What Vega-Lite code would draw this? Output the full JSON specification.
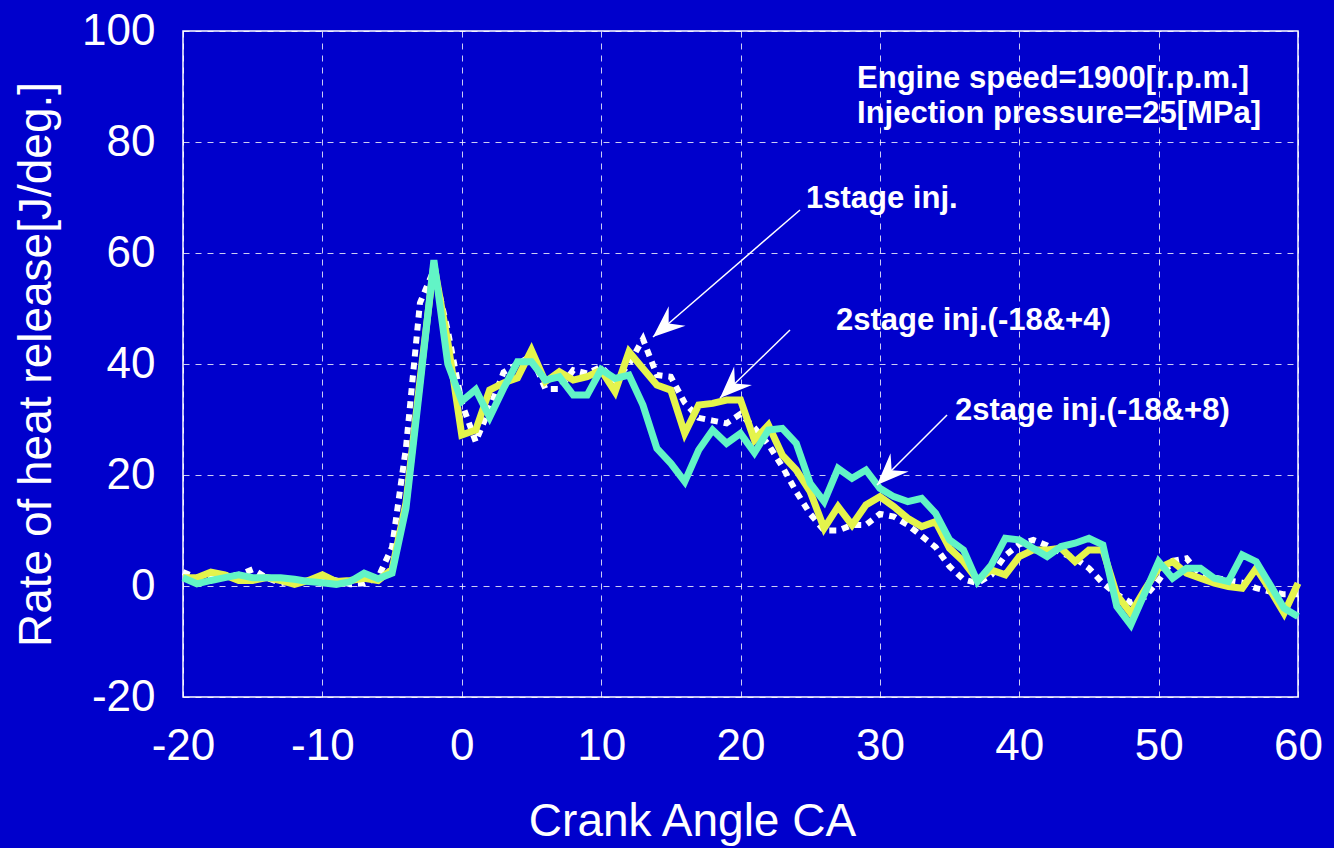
{
  "$schema": "https://vega.github.io/schema/vega-lite/v6.json",
  "width": 1115,
  "height": 666,
  "autosize": {"type": "none"},
  "padding": {"left": 183, "top": 31, "right": 36, "bottom": 151},
  "background": "#0000CC",
  "config": {
    "view": {"stroke": "#FFFFFF", "strokeWidth": 1.5, "fill": "#0000CC"},
    "font": "Liberation Sans",
    "axis": {
      "labelColor": "#FFFFFF", "labelFontSize": 44, "labelFont": "Liberation Sans",
      "titleColor": "#FFFFFF", "titleFontSize": 46, "titleFontWeight": "normal", "titleFont": "Liberation Sans",
      "domain": false, "ticks": false, "grid": true,
      "gridColor": "#FFFFFF", "gridDash": [6, 6], "gridWidth": 1, "gridOpacity": 0.8,
      "labelFlush": false, "labelOverlap": false,
      "labelExpr": "replace(datum.label, '\u2212', '-')"
    },
    "axisX": {"tickCount": 8, "labelPadding": 27, "titleX": 509, "titleY": 138, "titleBaseline": "alphabetic"},
    "axisY": {"tickCount": 6, "labelPadding": 28, "titleX": -133, "titleBaseline": "alphabetic", "titleAngle": 270}
  },
  "datasets": {
    "rhr": [
      {"ca": -20, "stage1": 2.5, "inj4": 1.5, "inj8": 1.5},
      {"ca": -19, "stage1": 1.5, "inj4": 1.5, "inj8": 0.4},
      {"ca": -18, "stage1": 1.5, "inj4": 2.5, "inj8": 1},
      {"ca": -17, "stage1": 2, "inj4": 2, "inj8": 1.5},
      {"ca": -16, "stage1": 2, "inj4": 1, "inj8": 2},
      {"ca": -15, "stage1": 3, "inj4": 1, "inj8": 1.5},
      {"ca": -14, "stage1": 1.5, "inj4": 1.5, "inj8": 1.5},
      {"ca": -13, "stage1": 0.5, "inj4": 1, "inj8": 1.5},
      {"ca": -12, "stage1": 1, "inj4": 0.3, "inj8": 1.2},
      {"ca": -11, "stage1": 1, "inj4": 1, "inj8": 0.8},
      {"ca": -10, "stage1": 1.5, "inj4": 2, "inj8": 0.6},
      {"ca": -9, "stage1": 1, "inj4": 0.8, "inj8": 0.3},
      {"ca": -8, "stage1": 0.3, "inj4": 1, "inj8": 0.8},
      {"ca": -7, "stage1": 0.5, "inj4": 1.4, "inj8": 2.3},
      {"ca": -6, "stage1": 1.5, "inj4": 1, "inj8": 1.3},
      {"ca": -5, "stage1": 7, "inj4": 3, "inj8": 2.3},
      {"ca": -4, "stage1": 25, "inj4": 15, "inj8": 14},
      {"ca": -3, "stage1": 51, "inj4": 37, "inj8": 36},
      {"ca": -2, "stage1": 57, "inj4": 58, "inj8": 58.7},
      {"ca": -1, "stage1": 46, "inj4": 44, "inj8": 40},
      {"ca": 0, "stage1": 33, "inj4": 27.2, "inj8": 33.3},
      {"ca": 1, "stage1": 26, "inj4": 28.1, "inj8": 35.4},
      {"ca": 2, "stage1": 32, "inj4": 35.3, "inj8": 30.4},
      {"ca": 3, "stage1": 38.5, "inj4": 36.6, "inj8": 35.6},
      {"ca": 4, "stage1": 40, "inj4": 37.5, "inj8": 40.4},
      {"ca": 5, "stage1": 41.5, "inj4": 42.5, "inj8": 40.4},
      {"ca": 6, "stage1": 35.5, "inj4": 36.8, "inj8": 37.1},
      {"ca": 7, "stage1": 35.5, "inj4": 38.6, "inj8": 37.7},
      {"ca": 8, "stage1": 38.9, "inj4": 37.1, "inj8": 34.4},
      {"ca": 9, "stage1": 38.3, "inj4": 37.7, "inj8": 34.4},
      {"ca": 10, "stage1": 39.5, "inj4": 38.9, "inj8": 39},
      {"ca": 11, "stage1": 37, "inj4": 35, "inj8": 37.4},
      {"ca": 12, "stage1": 40, "inj4": 42.2, "inj8": 38},
      {"ca": 13, "stage1": 44.5, "inj4": 39.2, "inj8": 32.6},
      {"ca": 14, "stage1": 38, "inj4": 36.2, "inj8": 24.8},
      {"ca": 15, "stage1": 37.7, "inj4": 35.3, "inj8": 22.1},
      {"ca": 16, "stage1": 33, "inj4": 27.5, "inj8": 18.8},
      {"ca": 17, "stage1": 30.3, "inj4": 32.6, "inj8": 24.5},
      {"ca": 18, "stage1": 29.8, "inj4": 32.9, "inj8": 28.1},
      {"ca": 19, "stage1": 29.3, "inj4": 33.5, "inj8": 25.7},
      {"ca": 20, "stage1": 31, "inj4": 33.5, "inj8": 27.5},
      {"ca": 21, "stage1": 28.5, "inj4": 26.3, "inj8": 24},
      {"ca": 22, "stage1": 25.5, "inj4": 29, "inj8": 28.1},
      {"ca": 23, "stage1": 21.5, "inj4": 23.6, "inj8": 28.4},
      {"ca": 24, "stage1": 17, "inj4": 20.9, "inj8": 25.7},
      {"ca": 25, "stage1": 13, "inj4": 17, "inj8": 18.5},
      {"ca": 26, "stage1": 10, "inj4": 10.4, "inj8": 15.2},
      {"ca": 27, "stage1": 10, "inj4": 14.3, "inj8": 21.2},
      {"ca": 28, "stage1": 11, "inj4": 11, "inj8": 19.4},
      {"ca": 29, "stage1": 11, "inj4": 14.6, "inj8": 20.9},
      {"ca": 30, "stage1": 13, "inj4": 16.1, "inj8": 17.6},
      {"ca": 31, "stage1": 12.5, "inj4": 14.3, "inj8": 16.1},
      {"ca": 32, "stage1": 11, "inj4": 12.2, "inj8": 15.2},
      {"ca": 33, "stage1": 9, "inj4": 10.7, "inj8": 15.8},
      {"ca": 34, "stage1": 7, "inj4": 11.6, "inj8": 13.1},
      {"ca": 35, "stage1": 3.5, "inj4": 6.8, "inj8": 8.3},
      {"ca": 36, "stage1": 1.2, "inj4": 4.4, "inj8": 6.5},
      {"ca": 37, "stage1": 0.5, "inj4": 1.1, "inj8": 0.8},
      {"ca": 38, "stage1": 2, "inj4": 2.9, "inj8": 3.8},
      {"ca": 39, "stage1": 5.5, "inj4": 2, "inj8": 8.6},
      {"ca": 40, "stage1": 7.5, "inj4": 5.3, "inj8": 8.3},
      {"ca": 41, "stage1": 8.3, "inj4": 6.5, "inj8": 6.8},
      {"ca": 42, "stage1": 7.3, "inj4": 6.5, "inj8": 5.3},
      {"ca": 43, "stage1": 6, "inj4": 6.8, "inj8": 7.1},
      {"ca": 44, "stage1": 5, "inj4": 4.4, "inj8": 7.7},
      {"ca": 45, "stage1": 3.2, "inj4": 6.5, "inj8": 8.6},
      {"ca": 46, "stage1": 0.5, "inj4": 6.5, "inj8": 7.4},
      {"ca": 47, "stage1": -1.5, "inj4": -1.6, "inj8": -3.7},
      {"ca": 48, "stage1": -3, "inj4": -4.9, "inj8": -7},
      {"ca": 49, "stage1": -2, "inj4": -0.7, "inj8": -1.3},
      {"ca": 50, "stage1": 1, "inj4": 3.2, "inj8": 4.4},
      {"ca": 51, "stage1": 4.5, "inj4": 4.4, "inj8": 1.4},
      {"ca": 52, "stage1": 5, "inj4": 2.3, "inj8": 3.2},
      {"ca": 53, "stage1": 2, "inj4": 1.4, "inj8": 3.2},
      {"ca": 54, "stage1": 1.5, "inj4": 0.5, "inj8": 1.4},
      {"ca": 55, "stage1": 1, "inj4": -0.1, "inj8": 0.8},
      {"ca": 56, "stage1": 0.6, "inj4": -0.4, "inj8": 5.6},
      {"ca": 57, "stage1": -0.4, "inj4": 3.2, "inj8": 4.4},
      {"ca": 58, "stage1": -1, "inj4": -0.7, "inj8": 0.2},
      {"ca": 59, "stage1": -1.5, "inj4": -4.9, "inj8": -4},
      {"ca": 60, "stage1": -1.5, "inj4": 0.5, "inj8": -5.5}
    ],
    "arrows": [
      {"id": 1, "x1": 24.27, "y1": 67.75, "x2": 13.72, "y2": 44.86},
      {"id": 2, "x1": 23.55, "y1": 46.13, "x2": 18.53, "y2": 33.87},
      {"id": 3, "x1": 34.82, "y1": 30.81, "x2": 29.79, "y2": 18.2}
    ],
    "notes": [
      {"label": "Engine speed=1900[r.p.m.]", "x": 28.36, "y": 89.68},
      {"label": "Injection pressure=25[MPa]", "x": 28.36, "y": 83.42},
      {"label": "1stage inj.", "x": 24.7, "y": 68.11},
      {"label": "2stage inj.(-18&+4)", "x": 26.85, "y": 46.13},
      {"label": "2stage inj.(-18&+8)", "x": 35.39, "y": 29.91}
    ]
  },
  "layer": [
    {
      "data": {"name": "rhr"},
      "mark": {"type": "line", "color": "#FFFFFF", "strokeWidth": 6, "strokeDash": [7, 6], "strokeCap": "butt"},
      "encoding": {
        "x": {"field": "ca", "type": "quantitative", "title": "Crank Angle CA", "scale": {"domain": [-20, 60], "nice": false, "zero": false}},
        "y": {"field": "stage1", "type": "quantitative", "title": "Rate of heat release[J/deg.]", "scale": {"domain": [-20, 100], "nice": false, "zero": false}}
      }
    },
    {
      "data": {"name": "rhr"},
      "mark": {"type": "line", "color": "#E4F44C", "strokeWidth": 7, "strokeJoin": "miter"},
      "encoding": {
        "x": {"field": "ca", "type": "quantitative", "title": "Crank Angle CA"},
        "y": {"field": "inj4", "type": "quantitative", "title": "Rate of heat release[J/deg.]"}
      }
    },
    {
      "data": {"name": "rhr"},
      "mark": {"type": "line", "color": "#62F4C6", "strokeWidth": 7, "strokeJoin": "miter"},
      "encoding": {
        "x": {"field": "ca", "type": "quantitative", "title": "Crank Angle CA"},
        "y": {"field": "inj8", "type": "quantitative", "title": "Rate of heat release[J/deg.]"}
      }
    },
    {
      "data": {"name": "arrows"},
      "mark": {"type": "rule", "color": "#FFFFFF", "strokeWidth": 1.5},
      "encoding": {
        "x": {"field": "x1", "type": "quantitative", "title": "Crank Angle CA"},
        "y": {"field": "y1", "type": "quantitative", "title": "Rate of heat release[J/deg.]"},
        "x2": {"field": "x2"},
        "y2": {"field": "y2"}
      }
    },
    {
      "data": {"name": "arrows"},
      "transform": [{"filter": "datum.id == 1"}],
      "mark": {"type": "point", "shape": "M0,0L-2,-0.8L-1.3,0L-2,0.8Z", "size": 1024, "filled": true, "color": "#FFFFFF", "opacity": 1, "strokeWidth": 0, "angle": 139},
      "encoding": {
        "x": {"field": "x2", "type": "quantitative", "title": "Crank Angle CA"},
        "y": {"field": "y2", "type": "quantitative", "title": "Rate of heat release[J/deg.]"}
      }
    },
    {
      "data": {"name": "arrows"},
      "transform": [{"filter": "datum.id == 2"}],
      "mark": {"type": "point", "shape": "M0,0L-2,-0.8L-1.3,0L-2,0.8Z", "size": 1024, "filled": true, "color": "#FFFFFF", "opacity": 1, "strokeWidth": 0, "angle": 136},
      "encoding": {
        "x": {"field": "x2", "type": "quantitative", "title": "Crank Angle CA"},
        "y": {"field": "y2", "type": "quantitative", "title": "Rate of heat release[J/deg.]"}
      }
    },
    {
      "data": {"name": "arrows"},
      "transform": [{"filter": "datum.id == 3"}],
      "mark": {"type": "point", "shape": "M0,0L-2,-0.8L-1.3,0L-2,0.8Z", "size": 1024, "filled": true, "color": "#FFFFFF", "opacity": 1, "strokeWidth": 0, "angle": 135},
      "encoding": {
        "x": {"field": "x2", "type": "quantitative", "title": "Crank Angle CA"},
        "y": {"field": "y2", "type": "quantitative", "title": "Rate of heat release[J/deg.]"}
      }
    },
    {
      "data": {"name": "notes"},
      "mark": {"type": "text", "color": "#FFFFFF", "font": "Liberation Sans", "fontWeight": "bold", "fontSize": 31, "align": "left", "baseline": "alphabetic"},
      "encoding": {
        "x": {"field": "x", "type": "quantitative", "title": "Crank Angle CA"},
        "y": {"field": "y", "type": "quantitative", "title": "Rate of heat release[J/deg.]"},
        "text": {"field": "label"}
      }
    }
  ]
}
